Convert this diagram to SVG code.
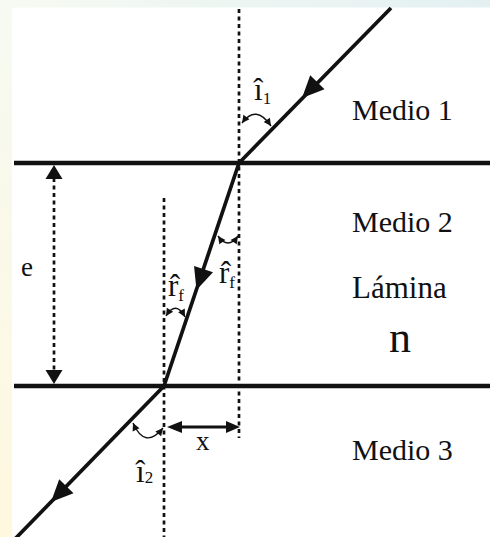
<svg xmlns="http://www.w3.org/2000/svg" width="490" height="537" viewBox="0 0 490 537">
<style>
.bound{stroke:#111;stroke-width:4.5;fill:none}
.normal{stroke:#111;stroke-width:2.7;stroke-dasharray:4 3.5;fill:none}
.ray{stroke:#111;stroke-width:3.7;fill:none;stroke-linecap:butt}
.head{fill:#111}
.arc{stroke:#111;stroke-width:1.4;fill:none;marker-start:url(#sm);marker-end:url(#sm)}
.t{font-family:"Liberation Serif","Times New Roman",serif;fill:#111}
.sub{font-size:17px}
</style>
<defs>
<linearGradient id="gl" x1="0" y1="0" x2="0" y2="1">
<stop offset="0" stop-color="#f6faf2"/>
<stop offset="1" stop-color="#fff8df"/>
</linearGradient>
<linearGradient id="gt" x1="0" y1="0" x2="1" y2="0">
<stop offset="0" stop-color="#f6faf2"/>
<stop offset="1" stop-color="#e3f0f2"/>
</linearGradient>
<path id="ah" d="M0,0 L-22,-10 L-22,10 Z"/>
<marker id="sm" markerUnits="userSpaceOnUse" markerWidth="10" markerHeight="10" viewBox="-7 -4 8 8" refX="0" refY="0" orient="auto-start-reverse">
<path d="M0,0 L-6,-3 L-6,3 Z" fill="#111"/>
</marker>
</defs>
<g id="background">
<rect x="0" y="0" width="490" height="537" fill="#ffffff"/>
<rect x="0" y="0" width="12" height="537" fill="url(#gl)"/>
<rect x="12" y="0" width="478" height="7.5" fill="url(#gt)"/>
</g>
<g id="boundaries">
<line class="bound" x1="14" y1="163" x2="490" y2="163"/>
<line class="bound" x1="14" y1="386" x2="490" y2="386"/>
</g>
<g id="normals">
<line class="normal" x1="239" y1="9" x2="239" y2="438"/>
<line class="normal" x1="164" y1="198" x2="164" y2="537"/>
</g>
<g id="connectors">
<g id="incident-ray">
<line class="ray" x1="391" y1="8" x2="239" y2="163"/>
<use href="#ah" class="head" transform="translate(302,98) rotate(134.3)"/>
</g>
<g id="refracted-ray">
<line class="ray" x1="239" y1="163" x2="164" y2="386"/>
<use href="#ah" class="head" transform="translate(196.5,290) rotate(108.6)"/>
</g>
<g id="emergent-ray">
<line class="ray" x1="164" y1="386" x2="13" y2="541"/>
<use href="#ah" class="head" transform="translate(51,502) rotate(134.3)"/>
</g>
<g id="thickness-e">
<line class="normal" x1="54" y1="178" x2="54" y2="372"/>
<polygon class="head" points="54,165 45.5,179 62.5,179"/>
<polygon class="head" points="54,384 45.5,370 62.5,370"/>
</g>
<g id="shift-x">
<line x1="180" y1="427" x2="228" y2="427" stroke="#111" stroke-width="3"/>
<polygon class="head" points="167,427 182,421 182,433"/>
<polygon class="head" points="240,427 226,421 226,433"/>
</g>
<g id="angle-arcs">
<path class="arc" d="M242,123 Q256,104 271,126"/>
<path class="arc" d="M218,236 Q228,250 238,236"/>
<path class="arc" d="M166,316 Q176,300 185,317"/>
<path class="arc" d="M133,423 Q145,450 163,428"/>
</g>
</g>
<g id="labels">
<text class="t" x="352" y="120" font-size="30">Medio 1</text>
<text class="t" x="352" y="232" font-size="30">Medio 2</text>
<text class="t" x="352" y="298" font-size="31">Lámina</text>
<text class="t" x="389" y="352" font-size="44">n</text>
<text class="t" x="352" y="460" font-size="30">Medio 3</text>
<text class="t" x="21" y="276" font-size="27">e</text>
<text class="t" x="196" y="450" font-size="27">x</text>
<text id="label-i1" class="t" x="254" y="100" font-size="31">i&#x302;<tspan class="sub" dy="4">1</tspan></text>
<text id="label-rf-right" class="t" x="219" y="283" font-size="31">r&#x302;<tspan class="sub" dy="5">f</tspan></text>
<text id="label-rf-left" class="t" x="168" y="296" font-size="31">r&#x302;<tspan class="sub" dy="5">f</tspan></text>
<text id="label-i2" class="t" x="136" y="482" font-size="31">i&#x302;<tspan class="sub" dy="1">2</tspan></text>
</g>
</svg>
